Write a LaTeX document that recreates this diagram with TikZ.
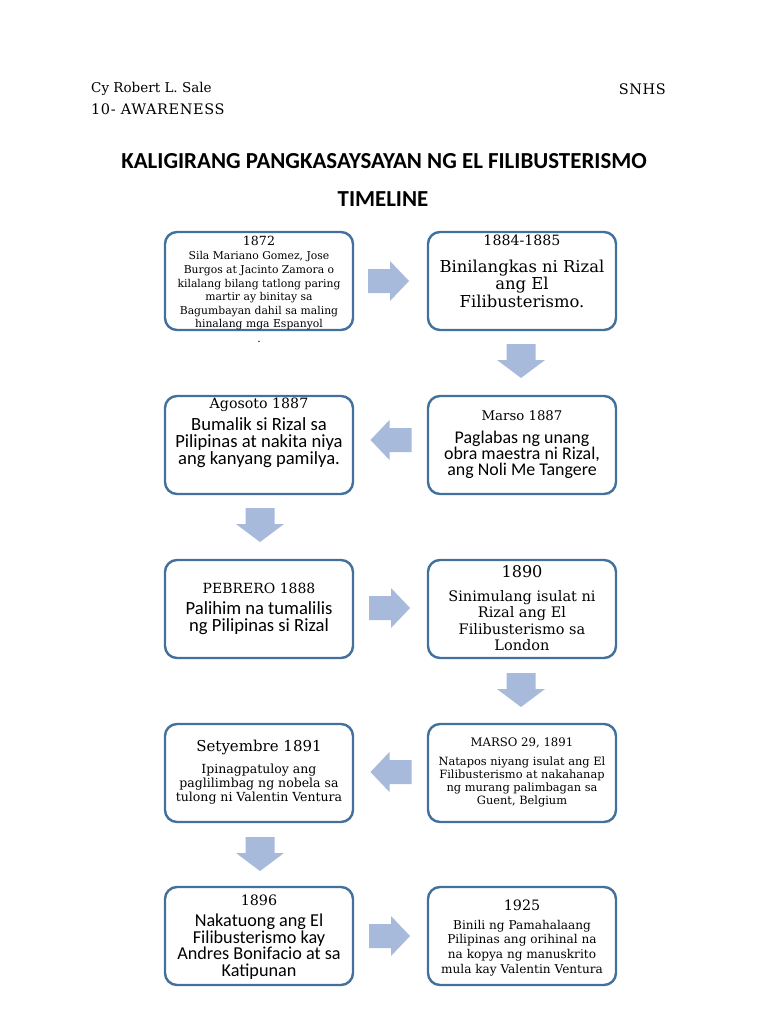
\documentclass[tikz,border=0pt]{standalone}
\usepackage{fontspec}
\setmainfont{DejaVu Serif}
\newfontfamily\calib{Carlito}
\usetikzlibrary{calc}
\definecolor{boxline}{RGB}{65,113,156}
\definecolor{arrowfill}{RGB}{167,186,219}
\newcommand\fs[2]{\fontsize{#1}{#2}\selectfont}
\tikzset{
  x=1pt,y=-1pt,
  tbox/.style={draw=boxline,line width=2.4pt,rounded corners=12pt,minimum width=188pt,minimum height=98pt,inner sep=0pt,fill=white},
  txt/.style={inner sep=0pt,align=center,text=black},
  rarr/.pic={\fill[arrowfill] (-20.5,-12) -- (1.5,-12) -- (1.5,-20) -- (20.5,0) -- (1.5,20) -- (1.5,12) -- (-20.5,12) -- cycle;},
  larr/.pic={\fill[arrowfill] (20.5,-12) -- (-1.5,-12) -- (-1.5,-20) -- (-20.5,0) -- (-1.5,20) -- (-1.5,12) -- (20.5,12) -- cycle;},
  darr/.pic={\fill[arrowfill] (-14.5,-17) -- (14.5,-17) -- (14.5,-1) -- (24,-1) -- (0,17) -- (-24,-1) -- (-14.5,-1) -- cycle;}
}
\begin{document}
\begin{tikzpicture}
\useasboundingbox (0,0) rectangle (768,1024);
\fill[white] (0,0) rectangle (768,1024);
% header
\node[txt,anchor=west,font=\fs{13.5}{15}] (author) at (91,89) {Cy Robert L. Sale};
\node[txt,anchor=west,font={\fs{14.5}{15}\addfontfeature{LetterSpace=4}}] (section) at (91,109) {10- AWARENESS};
\node[txt,anchor=east,font={\fs{14.5}{15}\addfontfeature{LetterSpace=4}}] (school) at (666,89) {SNHS};
\node[txt,font={\calib\bfseries\fs{22.9}{25}}] (title) at (384,161) {KALIGIRANG PANGKASAYSAYAN NG EL FILIBUSTERISMO};
\node[txt,font={\calib\bfseries\fs{22.9}{25}}] (tl) at (383,199) {TIMELINE};
% boxes
\node[tbox] (b1) at (259,281) {};
\node[tbox] (b2) at (522,281) {};
\node[tbox] (b3) at (259,445) {};
\node[tbox] (b4) at (522,445) {};
\node[tbox] (b5) at (259,609) {};
\node[tbox] (b6) at (522,609) {};
\node[tbox] (b7) at (259,773) {};
\node[tbox] (b8) at (522,773) {};
\node[tbox] (b9) at (259,936) {};
\node[tbox] (b10) at (522,936) {};
% arrows
\pic (a1) at (388.5,281) {rarr};
\pic (a2) at (521,361) {darr};
\pic (a3) at (391,440) {larr};
\pic (a4) at (260,525) {darr};
\pic (a5) at (389.5,608) {rarr};
\pic (a6) at (521,690) {darr};
\pic (a7) at (391,772) {larr};
\pic (a8) at (260,854) {darr};
\pic (a9) at (389.5,936) {rarr};
% box 1
\node[txt,font=\fs{12.6}{13}] (h1) at (259,241) {1872};
\node[txt,font=\fs{10.8}{13.6}] (t1) at (259,291) {Sila Mariano Gomez, Jose\\Burgos at Jacinto Zamora o\\kilalang bilang tatlong paring\\martir ay binitay sa\\Bagumbayan dahil sa maling\\hinalang mga Espanyol};
\node[txt,font=\fs{11}{13}] (dot1) at (259,342) {.};
% box 2
\node[txt,font=\fs{14.2}{15}] (h2) at (522,240) {1884-1885};
\node[txt,font=\fs{16.4}{17.5}] (t2) at (522,283.5) {Binilangkas ni Rizal\\ang El\\Filibusterismo.};
% box 3
\node[txt,font=\fs{14.2}{16}] (h3) at (259,405) {Agosoto 1887};
\node[txt,font={\calib\fs{18.6}{17}}] (t3) at (259,443) {Bumalik si Rizal sa\\Pilipinas at nakita niya\\ang kanyang pamilya.};
% box 4
\node[txt,font=\fs{13.3}{15}] (h4) at (522,416) {Marso 1887};
\node[txt,font={\calib\fs{17.9}{16.2}}] (t4) at (522,455) {Paglabas ng unang\\obra maestra ni Rizal,\\ang Noli Me Tangere};
% box 5
\node[txt,font=\fs{14}{16}] (h5) at (259,588) {PEBRERO 1888};
\node[txt,font={\calib\fs{18.6}{17}}] (t5) at (259,618.5) {Palihim na tumalilis\\ng Pilipinas si Rizal};
% box 6
\node[txt,font=\fs{16.1}{18}] (h6) at (522,572) {1890};
\node[txt,font=\fs{14.5}{16.3}] (t6) at (522,620.5) {Sinimulang isulat ni\\Rizal ang El\\Filibusterismo sa\\London};
% box 7
\node[txt,font=\fs{15}{17}] (h7) at (259,747) {Setyembre 1891};
\node[txt,font=\fs{12.5}{14}] (t7) at (259,784) {Ipinagpatuloy ang\\paglilimbag ng nobela sa\\tulong ni Valentin Ventura};
% box 8
\node[txt,font=\fs{11.7}{14}] (h8) at (522,743) {MARSO 29, 1891};
\node[txt,font=\fs{11.4}{13}] (t8) at (522,781.5) {Natapos niyang isulat ang El\\Filibusterismo at nakahanap\\ng murang palimbagan sa\\Guent, Belgium};
% box 9
\node[txt,font=\fs{14.3}{16}] (h9) at (259,900) {1896};
\node[txt,font={\calib\fs{18.2}{16.5}}] (t9) at (259,946.5) {Nakatuong ang El\\Filibusterismo kay\\Andres Bonifacio at sa\\Katipunan};
% box 10
\node[txt,font=\fs{14.3}{16}] (h10) at (522,905) {1925};
\node[txt,font=\fs{12.1}{14.7}] (t10) at (522,948) {Binili ng Pamahalaang\\Pilipinas ang orihinal na\\na kopya ng manuskrito\\mula kay Valentin Ventura};
\end{tikzpicture}
\end{document}
